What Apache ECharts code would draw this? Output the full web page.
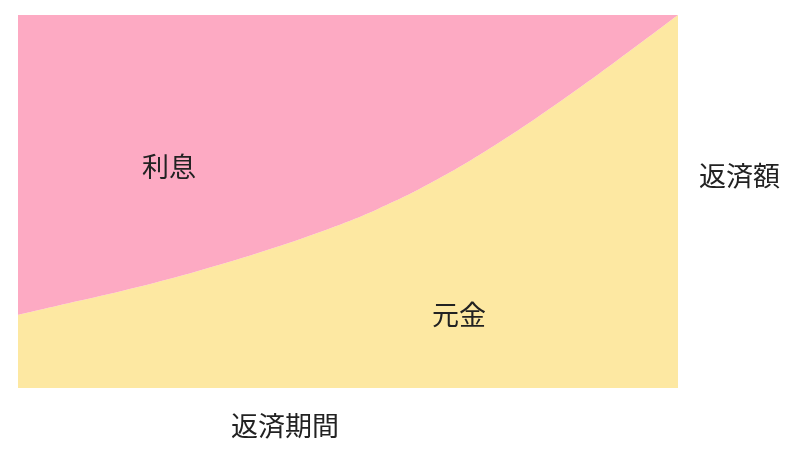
<!DOCTYPE html>
<html>
<head>
<meta charset="utf-8">
<script src="https://cdn.jsdelivr.net/npm/echarts@6/dist/echarts.min.js"></script>
<style>
  html, body { margin: 0; padding: 0; background: #fff; }
  #chart { width: 799px; height: 453px; }
</style>
</head>
<body>
<div id="chart"></div>
<script>
// 返済期間 (均等に12点)
var periods = ['1', '2', '3', '4', '5', '6', '7', '8', '9', '10', '11', '12'];
// 毎回の返済額に占める元金の割合 (%)
var principal = [19.6, 23.3, 27.1, 31.4, 36.2, 41.6, 48.0, 56.0, 65.6, 76.4, 88.0, 100];
// 残りは利息
var interest = [80.4, 76.7, 72.9, 68.6, 63.8, 58.4, 52.0, 44.0, 34.4, 23.6, 12.0, 0];

var labelFont = '"Noto Sans CJK JP", "Noto Sans CJK SC", sans-serif';

var myChart = echarts.init(document.getElementById('chart'));

var option = {
    animation: false,
    grid: { left: 18, right: 121, top: 15, bottom: 65 },
    xAxis: {
        type: 'category',
        boundaryGap: false,
        data: periods,
        axisLine: { show: false },
        axisTick: { show: false },
        axisLabel: { show: false },
        splitLine: { show: false }
    },
    yAxis: {
        type: 'value',
        min: 0,
        max: 100,
        axisLine: { show: false },
        axisTick: { show: false },
        axisLabel: { show: false },
        splitLine: { show: false }
    },
    series: [
        {
            name: '元金',
            type: 'line',
            stack: 'total',
            smooth: 0.4,
            symbol: 'none',
            lineStyle: { width: 0 },
            areaStyle: { color: '#fde8a2', opacity: 1 },
            data: principal
        },
        {
            name: '利息',
            type: 'line',
            stack: 'total',
            smooth: 0.4,
            symbol: 'none',
            lineStyle: { width: 0 },
            areaStyle: { color: '#fdaac3', opacity: 1 },
            data: interest
        }
    ],
    graphic: [
        { type: 'text', z: 100, left: 142, top: 153, style: { text: '利息', font: '27px ' + labelFont, fill: '#222' } },
        { type: 'text', z: 100, left: 432, top: 301, style: { text: '元金', font: '27px ' + labelFont, fill: '#222' } },
        { type: 'text', z: 100, left: 699, top: 162, style: { text: '返済額', font: '27px ' + labelFont, fill: '#222' } },
        { type: 'text', z: 100, left: 231, top: 412, style: { text: '返済期間', font: '27px ' + labelFont, fill: '#222' } }
    ]
};

myChart.setOption(option);
</script>
</body>
</html>
